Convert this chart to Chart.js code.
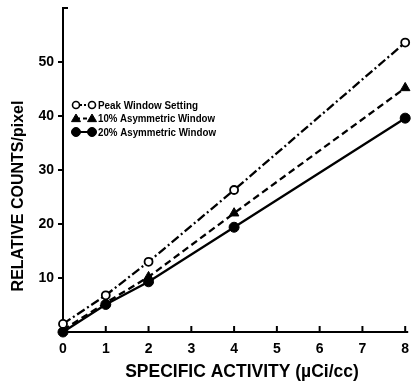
<!DOCTYPE html>
<html><head><meta charset="utf-8">
<script src="https://cdn.jsdelivr.net/npm/chart.js@4/dist/chart.umd.min.js"></script>
<style>html,body{margin:0;padding:0;background:#fff}#wrap{width:412px;height:384px}</style>
</head><body><div id="wrap"><canvas id="c" width="412" height="384"></canvas></div>
<script>
const activity = [0, 1, 2, 4, 8];
const peakWindow = [1.5, 6.8, 13, 26.3, 53.6];
const asym10 = [0.4, 5.4, 10.2, 22, 45.2];
const asym20 = [0, 5.1, 9.3, 19.4, 39.6];
const xTickValues = [0, 1, 2, 3, 4, 5, 6, 7, 8];
const yTickLabels = [10, 20, 30, 40, 50];
const seriesNames = ['Peak Window Setting', '10% Asymmetric Window', '20% Asymmetric Window'];
const xTitle = 'SPECIFIC ACTIVITY (\u00B5Ci/cc)';
const yTitle = 'RELATIVE COUNTS/pixel';

const FONT = '"Liberation Sans", Arial, sans-serif';

function pts(ys) { return activity.map((x, i) => ({x: x, y: ys[i]})); }

const styles = [
  {borderDash: [9, 3, 2, 3], pointStyle: 'circle', pointRadius: 4, pointBackgroundColor: '#fff', pointBorderWidth: 1.8},
  {borderDash: [7, 4], pointStyle: 'triangle', pointRadius: 5.5, pointBackgroundColor: '#000', pointBorderWidth: 1},
  {borderDash: [], pointStyle: 'circle', pointRadius: 5, pointBackgroundColor: '#000', pointBorderWidth: 1}
];
const seriesData = [peakWindow, asym10, asym20];

const datasets = seriesData.map((d, i) => Object.assign({
  label: seriesNames[i],
  data: pts(d),
  borderColor: '#000',
  borderWidth: 2.3,
  pointBorderColor: '#000',
  pointHoverRadius: 5,
  tension: 0,
  clip: false
}, styles[i]));

const decor = {
  id: 'decor',
  afterDraw(chart) {
    const ctx = chart.ctx;
    const xs = chart.scales.x, ys = chart.scales.y;
    const ca = chart.chartArea;
    ctx.save();
    ctx.strokeStyle = '#000';
    ctx.lineWidth = 2;
    ctx.beginPath();
    ctx.moveTo(ca.right, ca.bottom);
    ctx.lineTo(ca.right + 3, ca.bottom);
    ctx.stroke();
    xTickValues.forEach(v => {
      if (v === 0) return;
      const px = xs.getPixelForValue(v);
      ctx.beginPath();
      ctx.moveTo(px, ca.bottom);
      ctx.lineTo(px, ca.bottom - 6);
      ctx.stroke();
    });
    const ty = ys.getPixelForValue(60);
    ctx.beginPath();
    ctx.moveTo(ca.left - 1, ty);
    ctx.lineTo(ca.left + 5, ty);
    ctx.stroke();

    ctx.fillStyle = '#000';
    ctx.font = 'bold 17.5px ' + FONT;
    ctx.textAlign = 'center';
    ctx.textBaseline = 'middle';
    ctx.fillText(xTitle, 242, 372, 239);
    ctx.save();
    ctx.translate(19, 196);
    ctx.rotate(-Math.PI / 2);
    ctx.font = 'bold 16px ' + FONT;
    ctx.fillText(yTitle, 0, 0, 196);
    ctx.restore();

    const rows = [105, 118.5, 132];
    const widths = [100, 117, 118];
    ctx.font = 'bold 11.5px ' + FONT;
    ctx.textAlign = 'left';
    chart.data.datasets.forEach((ds, i) => {
      const y = rows[i];
      const x1 = 76, x2 = 92;
      ctx.save();
      ctx.strokeStyle = '#000';
      ctx.lineWidth = 2;
      ctx.setLineDash(i === 0 ? [2, 2] : (i === 1 ? [4, 3] : []));
      ctx.beginPath();
      ctx.moveTo(x1, y); ctx.lineTo(x2, y); ctx.stroke();
      ctx.setLineDash([]);
      [x1, x2].forEach(px => {
        ctx.fillStyle = ds.pointBackgroundColor;
        ctx.strokeStyle = '#000';
        ctx.lineWidth = i === 0 ? 1.6 : 1;
        ctx.beginPath();
        if (ds.pointStyle === 'triangle') {
          const r = 4.5;
          ctx.moveTo(px, y - r);
          ctx.lineTo(px + r, y + r * 0.7);
          ctx.lineTo(px - r, y + r * 0.7);
          ctx.closePath();
        } else {
          ctx.arc(px, y, i === 0 ? 3.5 : 4.5, 0, Math.PI * 2);
        }
        ctx.fill();
        ctx.stroke();
      });
      ctx.restore();
      ctx.fillStyle = '#000';
      ctx.fillText(ds.label, 98, y + 0.5, widths[i]);
    });
    ctx.restore();
  }
};

new Chart(document.getElementById('c'), {
  type: 'line',
  data: {datasets: datasets},
  options: {
    responsive: false,
    animation: false,
    devicePixelRatio: 1,
    layout: {padding: {left: 0, right: 5, top: 8, bottom: 0}},
    plugins: {legend: {display: false}, tooltip: {enabled: false}},
    scales: {
      x: {
        type: 'linear', min: 0, max: 8,
        afterFit(s) { s.height = 52; s.paddingRight = 0; s.paddingLeft = 0; },
        afterBuildTicks(s) { s.ticks = xTickValues.map(v => ({value: v})); },
        grid: {display: false, drawTicks: false},
        border: {display: true, color: '#000', width: 2},
        ticks: {color: '#000', font: {family: FONT, size: 14, weight: 'bold'}, padding: 9, maxRotation: 0}
      },
      y: {
        type: 'linear', min: 0, max: 60,
        afterFit(s) { s.width = 63; s.paddingTop = 0; s.paddingBottom = 0; },
        afterBuildTicks(s) { s.ticks = yTickLabels.map(v => ({value: v})); },
        grid: {display: true, drawOnChartArea: false, drawTicks: true, tickLength: 5, color: '#000', lineWidth: 2},
        border: {display: true, color: '#000', width: 2},
        ticks: {color: '#000', font: {family: FONT, size: 14, weight: 'bold'}, padding: 4}
      }
    }
  },
  plugins: [decor]
});
</script>
</body></html>
